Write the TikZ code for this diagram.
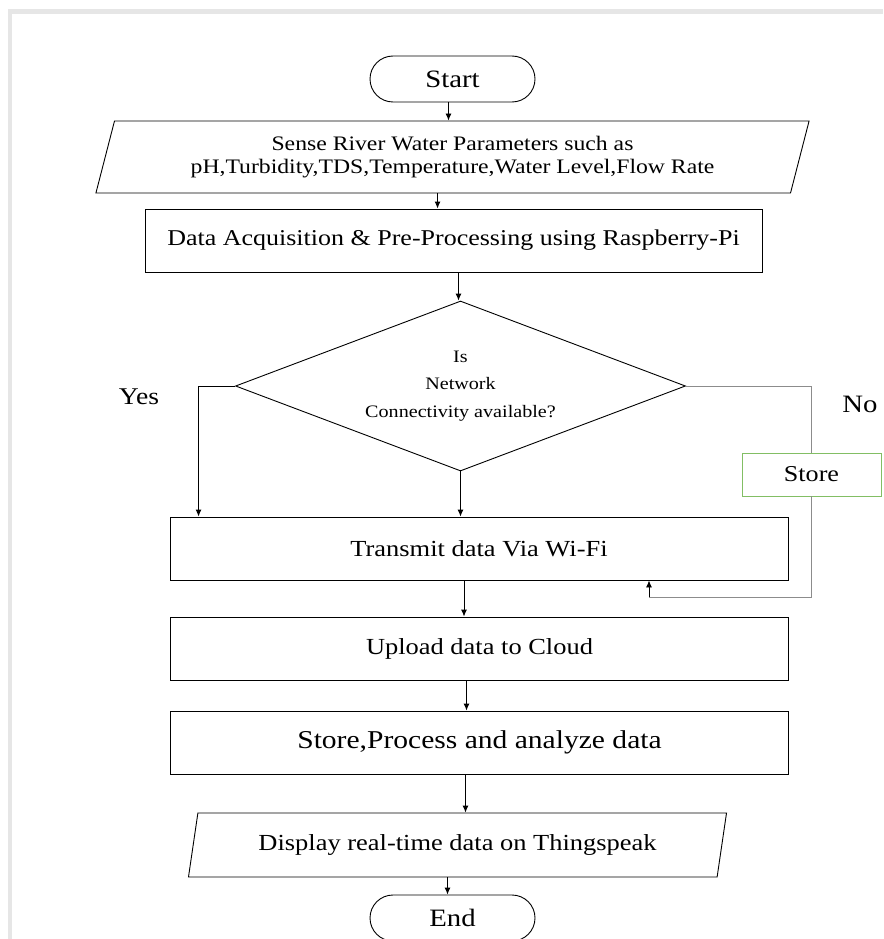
\documentclass[tikz,border=0pt]{standalone}
\usepackage{fontspec}
\setmainfont{Liberation Serif}[FakeStretch=1.15]
\usetikzlibrary{arrows.meta,shapes.geometric}
\definecolor{pagegray}{RGB}{230,230,230}
\definecolor{storegreen}{RGB}{130,190,100}
\definecolor{nogray}{RGB}{140,140,140}
\tikzset{
	flow/.style={draw, line width=0.9pt, inner sep=0pt, align=center},
	terminal/.style={flow, rounded corners=23pt, minimum width=165pt, minimum height=46pt, font=\fontsize{25}{30}\selectfont},
	process/.style={flow, minimum width=618pt, minimum height=63pt, font=\fontsize{23}{28}\selectfont},
	inout/.style={flow, trapezium, trapezium left angle=71, trapezium right angle=109, trapezium stretches=true},
	decision/.style={flow, diamond, aspect=2.65, minimum width=450pt, minimum height=170pt, font=\fontsize{17.5}{27.5}\selectfont},
	arr/.style={line width=0.9pt, -{Latex[length=7pt,width=6pt]}},
}

\begin{document}
\begin{tikzpicture}[x=1pt, y=-1pt]
	%%%%% START %%%%%
	
	\useasboundingbox (0,0) rectangle (883,939);
	\fill[white] (0,0) rectangle (883,939);
	\fill[pagegray] (8,9) rectangle (883,14);
	\fill[pagegray] (8,9) rectangle (12,939);
	
	\node[terminal] (start) at (452.5,79) {Start};
	\node[inout, minimum width=717pt, minimum height=72pt, font=\fontsize{20.6}{23}\selectfont] (sense) at (452.5,157) {Sense River Water Parameters such as\\pH,Turbidity,TDS,Temperature,Water Level,Flow Rate};
	\node[process, minimum width=617pt, font=\fontsize{22.6}{28}\selectfont] (acq) at (453.5,240.5) {Data Acquisition \& Pre-Processing using Raspberry-Pi};
	
	\node[decision] (net) at (460.5,386) {Is\\Network\\Connectivity available?};
	\node[flow, draw=storegreen, minimum width=139pt, minimum height=43pt, font=\fontsize{22.7}{27}\selectfont] (store) at (811.5,474.5) {Store};
	\node[font=\fontsize{24}{28}\selectfont] (yes) at (139,397) {Yes};
	\node[font=\fontsize{25}{30}\selectfont] (no) at (860,404) {No};
	
	\node[process] (wifi) at (479,548.5) {Transmit data Via Wi-Fi};
	\node[process] (cloud) at (479.5,648.5) {Upload data to Cloud};
	\node[process, font=\fontsize{25.7}{30}\selectfont] (analyze) at (479.5,742.5) {Store,Process and analyze data};
	\node[inout, minimum width=541pt, minimum height=64pt, font=\fontsize{23}{28}\selectfont] (show) at (457.5,845) {Display real-time data on Thingspeak};
	\node[terminal] (end) at (452.5,918) {End};
	
	\draw[arr] ([xshift=-4pt]start.south) -- ([xshift=-4pt]start.south |- sense.north);
	\draw[arr] ([xshift=-15pt]sense.south) -- ([xshift=-15pt]sense.south |- acq.north);
	\draw[arr] ([xshift=5pt]acq.south) -- ([xshift=5pt]acq.south |- net.north);
	
	\draw[arr] (net.west) -| ([xshift=29pt]wifi.north west);
	\draw[arr] (net.south) -- (net.south |- wifi.north);
	\draw[nogray, line width=0.9pt] (net.east) -| (store.north);
	
	\coordinate (loop) at (649,597);
	\draw[nogray, line width=0.9pt] (store.south) |- (loop);
	\draw[arr] (loop) -- (loop |- wifi.south);
	
	\draw[arr] ([xshift=-15pt]wifi.south) -- ([xshift=-15pt]wifi.south |- cloud.north);
	\draw[arr] ([xshift=-13pt]cloud.south) -- ([xshift=-13pt]cloud.south |- analyze.north);
	\draw[arr] ([xshift=-14pt]analyze.south) -- ([xshift=-14pt]analyze.south |- show.north);
	\draw[arr] ([xshift=-5pt]end.north |- show.south) -- ([xshift=-5pt]end.north);
	
	%%%%% END %%%%%
\end{tikzpicture}
\end{document}
